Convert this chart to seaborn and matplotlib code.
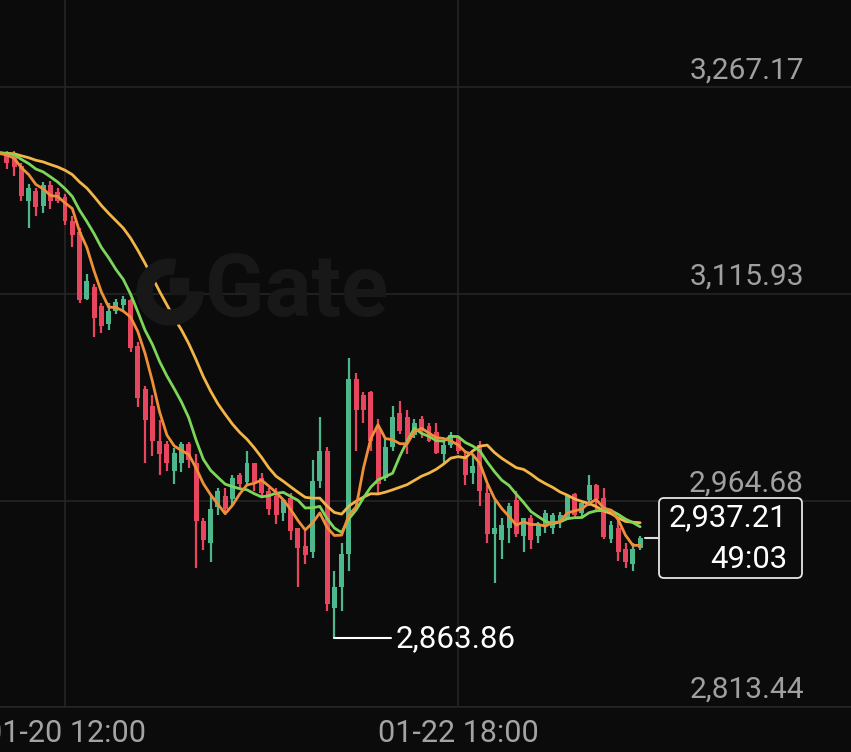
import numpy as np
import pandas as pd
import matplotlib
matplotlib.use("Agg")
import matplotlib.pyplot as plt
import seaborn as sns
from matplotlib.patches import FancyBboxPatch, Wedge, Rectangle
from matplotlib.transforms import IdentityTransform

# ---------------- data (1h candles, index 0 = 01-20 04:00) ----------------
opens = [3219.5, 3217.3, 3210.0, 3184.4, 3191.7, 3180.7, 3195.4, 3190.3, 3186.6, 3169.7,
         3161.0, 3112.6, 3120.7, 3106.8, 3094.3, 3103.8, 3107.5, 3111.2, 3078.2, 3046.7,
         3034.2, 3008.6, 3006.4, 2986.6, 2991.8, 3006.4, 2991.8, 2950.0, 2933.2, 2959.6,
         2968.3, 2966.1, 2983.0, 2977.9, 2991.8, 2981.5, 2972.0, 2968.3, 2955.2, 2966.8,
         2944.2, 2931.7, 2927.3, 2979.3, 3001.3, 2886.3, 2901.0, 2925.8, 3054.0, 3041.6,
         3043.8, 3017.4, 2981.5, 3003.5, 3029.1, 3026.2, 3012.3, 3024.7, 3018.9, 3014.5,
         2999.1, 3005.0, 3010.1, 2997.6, 2984.5, 3005.0, 2970.5, 2940.5, 2935.4, 2944.9,
         2964.7, 2939.0, 2952.2, 2939.0, 2946.4, 2944.9, 2948.6, 2952.2, 2969.8, 2955.2,
         2964.7, 2975.7, 2966.8, 2936.8, 2944.9, 2929.5, 2918.5, 2930.2]
highs = [3221.0, 3221.0, 3212.2, 3196.8, 3193.9, 3197.6, 3199.0, 3193.9, 3189.5, 3173.4,
         3164.6, 3130.9, 3123.6, 3109.0, 3109.0, 3112.6, 3114.8, 3112.6, 3080.4, 3048.9,
         3041.6, 3023.3, 3008.6, 3002.8, 3007.2, 3007.2, 2999.1, 2951.5, 2968.3, 2973.5,
         2973.5, 2983.0, 2984.5, 3001.3, 2992.5, 2984.5, 2973.5, 2973.5, 2966.1, 2970.5,
         2944.9, 2942.7, 2994.0, 3025.5, 3003.5, 2913.4, 2933.2, 3068.7, 3057.7, 3043.8,
         3045.2, 3024.7, 3010.1, 3034.2, 3037.9, 3030.6, 3024.7, 3026.9, 3021.1, 3021.1,
         3007.2, 3014.5, 3010.8, 3001.3, 2997.6, 3008.6, 2975.7, 2964.7, 2951.5, 2962.5,
         2972.0, 2952.2, 2953.7, 2948.6, 2957.4, 2955.2, 2955.9, 2968.3, 2970.5, 2963.2,
         2983.0, 2977.1, 2974.2, 2950.0, 2950.0, 2933.2, 2933.2, 2939.0]
lows = [3207.8, 3202.7, 3184.4, 3164.6, 3173.4, 3174.9, 3178.5, 3182.9, 3166.1, 3150.0,
        3109.0, 3111.2, 3084.1, 3087.0, 3089.2, 3101.6, 3103.8, 3073.1, 3032.8, 2992.5,
        2997.6, 2983.0, 2986.6, 2977.1, 2985.2, 2988.8, 2914.9, 2928.1, 2919.3, 2953.7,
        2955.2, 2961.0, 2974.2, 2977.1, 2972.0, 2968.3, 2953.7, 2947.8, 2950.0, 2935.4,
        2901.0, 2918.5, 2922.9, 2974.2, 2884.1, 2863.86, 2884.1, 2913.4, 3001.3, 3021.1,
        3001.3, 2969.8, 2979.3, 3001.3, 3013.7, 2999.1, 3010.8, 3010.8, 3007.2, 2999.1,
        2991.8, 3002.8, 2999.1, 2975.7, 2977.1, 2961.0, 2933.2, 2903.9, 2922.2, 2933.2,
        2937.6, 2926.6, 2929.5, 2933.2, 2941.2, 2940.5, 2944.2, 2951.5, 2951.5, 2952.2,
        2961.0, 2956.6, 2936.8, 2933.9, 2920.7, 2914.9, 2913.4, 2928.1]
closes = [3211.5, 3208.6, 3188.0, 3193.2, 3179.3, 3195.4, 3184.4, 3184.4, 3169.7, 3158.8,
          3111.2, 3125.8, 3098.0, 3092.8, 3103.8, 3109.7, 3112.6, 3076.7, 3039.4, 3023.3,
          3008.6, 2999.1, 2992.5, 2999.8, 3006.4, 2994.0, 2950.0, 2935.4, 2958.8, 2972.0,
          2958.8, 2980.8, 2977.1, 2991.8, 2977.9, 2970.5, 2958.8, 2953.7, 2964.7, 2942.7,
          2930.2, 2924.4, 2979.3, 3001.3, 2889.2, 2901.0, 2925.8, 3054.0, 3030.6, 3030.6,
          3008.6, 2977.1, 3003.5, 3026.2, 3015.9, 3008.6, 3021.1, 3015.9, 3008.6, 2999.8,
          3005.0, 3012.3, 3001.3, 2983.0, 2990.3, 2972.0, 2940.5, 2944.9, 2946.4, 2961.0,
          2940.5, 2952.2, 2935.4, 2946.4, 2955.2, 2953.7, 2954.4, 2968.3, 2953.7, 2962.5,
          2975.7, 2966.1, 2937.6, 2946.4, 2926.6, 2919.3, 2929.5, 2937.21]
# closes of the hours just before the visible window (only feed the moving averages)
prior_closes = [3214.0, 3218.5, 3221.0, 3216.2, 3219.8, 3223.5, 3220.1, 3217.4, 3222.6, 3219.0,
                3215.8, 3221.7, 3224.0, 3219.3, 3216.9, 3220.4, 3222.8, 3218.1, 3216.0]

time_tick_idx = [8, 62]
time_tick_labels = ["01-20 12:00", "01-22 18:00"]
price_levels = [3267.17, 3115.93, 2964.68, 2813.44]
price_labels = ["3,267.17", "3,115.93", "2,964.68", "2,813.44"]
ma_periods = [20, 10, 5]
ma_colors = ["#F3B547", "#7CD65A", "#EE8F3A"]
low_label = "2,863.86"
last_label = "2,937.21"
countdown_label = "49:03"

# ---------------- styling ----------------
BG = "#0b0b0b"
GRID = "#252525"
UP = "#4DB88B"
DOWN = "#E8465F"
sns.set_theme(style="dark")
plt.rcParams["font.family"] = ["Roboto", "DejaVu Sans"]

W, H = 851, 752
fig = plt.figure(figsize=(W / 100, H / 100), dpi=100, facecolor=BG)
ax = fig.add_axes([0, 45 / H, 1, 707 / H])
ax.set_facecolor(BG)

df = pd.DataFrame({"idx": np.arange(len(closes)), "open": opens, "high": highs,
                   "low": lows, "close": closes})

ax.set_xlim(-0.93, 115.97)
ax.set_ylim(2813.44, 2813.44 + 707 * 0.7324)

# grid
for v in price_levels:
    ax.axhline(v, color=GRID, lw=1.2, zorder=0)
for t in time_tick_idx:
    ax.axvline(t, color=GRID, lw=1.2, zorder=0)

# watermark
WM = "#181818"
fig.patches.append(Wedge((170, H - 292), 33, 80, 360, width=15, color=WM,
                         transform=IdentityTransform(), zorder=0.5))
fig.patches.append(Rectangle((170, H - 292 - 2), 18, 16, color=WM,
                             transform=IdentityTransform(), zorder=0.5))
fig.text(205 / W, 1 - 292 / H, "Gate", color=WM, fontsize=63,
         fontweight="bold", ha="left", va="center", zorder=0.5)

# candles
up = df["close"] >= df["open"]
colors = np.where(up, UP, DOWN)
ax.vlines(df["idx"], df["low"], df["high"], colors=colors, lw=1.6, zorder=2)
body_bottom = np.minimum(df["open"], df["close"])
body_h = np.maximum(np.abs(df["close"] - df["open"]), 0.6)
ax.bar(df["idx"], body_h, bottom=body_bottom, width=0.68, color=colors,
       edgecolor="none", zorder=3)

# moving averages (computed from closes, incl. the hours before the window)
all_close = pd.Series(prior_closes + closes,
                      index=np.arange(-len(prior_closes), len(closes)))
ma_frames = []
for p in ma_periods:
    ma = all_close.rolling(p, min_periods=1).mean()
    ma_frames.append(pd.DataFrame({"idx": ma.index, "value": ma.values, "ma": f"MA{p}"}))
ma_df = pd.concat(ma_frames, ignore_index=True)
sns.lineplot(data=ma_df, x="idx", y="value", hue="ma", palette=ma_colors,
             legend=False, lw=2.0, ax=ax, zorder=4)
ax.set_xlim(-0.93, 115.97)

# axes cosmetics
for s in ["top", "right", "left"]:
    ax.spines[s].set_visible(False)
ax.spines["bottom"].set_color(GRID)
ax.spines["bottom"].set_linewidth(1.2)
ax.set_yticks([])
ax.set_xticks(time_tick_idx)
ax.set_xticklabels(time_tick_labels, color="#a3a3a3", fontsize=22)
ax.tick_params(axis="x", length=0, pad=9)
ax.set_xlabel("")
ax.set_ylabel("")
ax.grid(False)

# price labels above grid lines, right aligned
for v, lab in zip(price_levels, price_labels):
    ax.annotate(lab, xy=(1, v), xycoords=("axes fraction", "data"),
                xytext=(-47, 17), textcoords="offset pixels", ha="right",
                va="center", color="#a0a0a0", fontsize=21.5)

# lowest price marker
low_i = int(np.argmin(lows))
ax.plot([low_i, low_i + 7.8], [lows[low_i], lows[low_i]], color="white", lw=1.5, zorder=5)
ax.annotate(low_label, xy=(low_i, lows[low_i]), xytext=(61, 0),
            textcoords="offset pixels", ha="left", va="center", color="white",
            fontsize=22.5, zorder=6)

# last price marker and box
last_i = len(closes) - 1
ax.plot([last_i + 0.7, last_i + 2.4], [closes[-1], closes[-1]], color="#dddddd", lw=1.5, zorder=5)
box = FancyBboxPatch((659, H - 578), 143, 80, boxstyle="round,pad=0,rounding_size=5",
                     transform=IdentityTransform(), facecolor="#0b0b0b",
                     edgecolor="#e6e6e6", lw=1.3, zorder=10)
fig.patches.append(box)
fig.text(787 / W, 1 - 518 / H, last_label, color="white", fontsize=22.3,
         ha="right", va="center", zorder=11)
fig.text(787 / W, 1 - 560 / H, countdown_label, color="white", fontsize=22.3,
         ha="right", va="center", zorder=11)

fig.savefig("out.png", dpi=100, facecolor=BG)
